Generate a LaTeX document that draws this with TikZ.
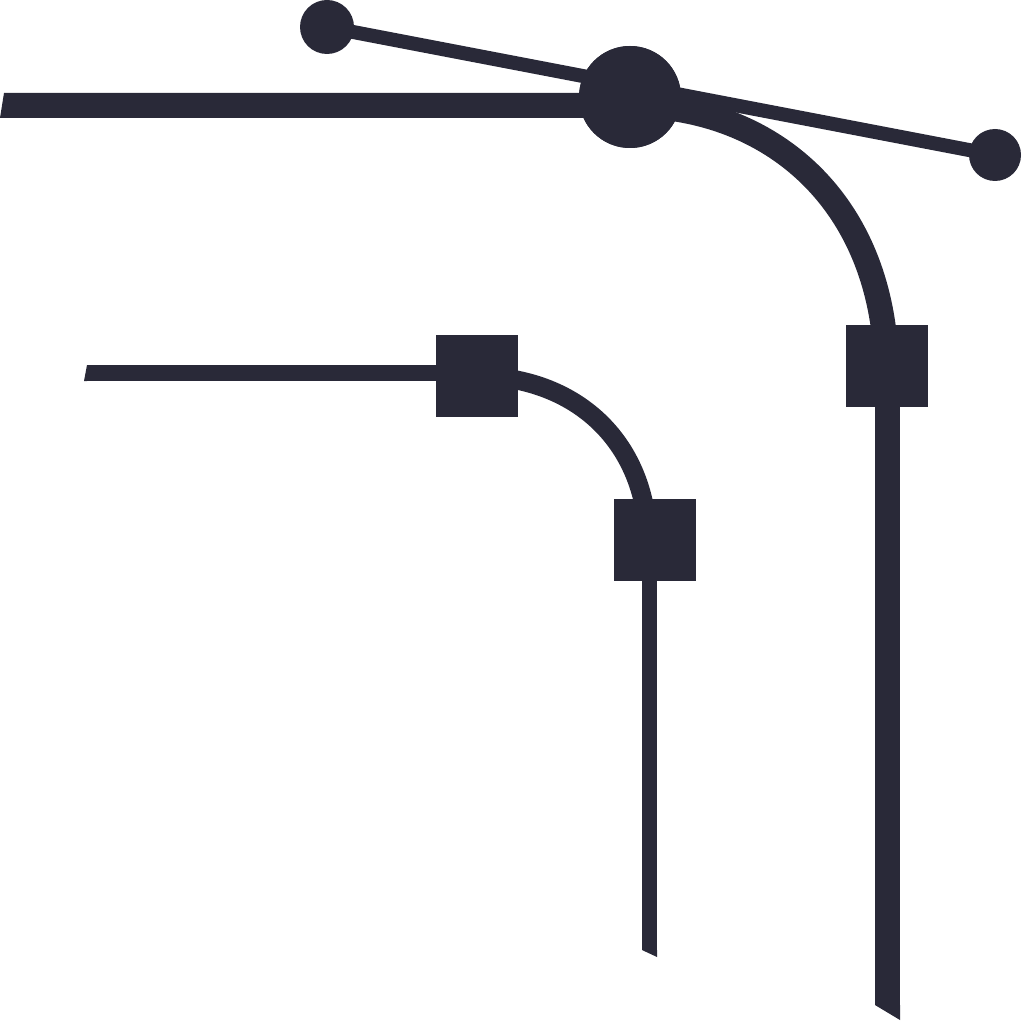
\documentclass[tikz,border=0pt]{standalone}
\usepackage{tikz}
\usetikzlibrary{positioning}
\usepackage{xcolor}
\definecolor{ink}{RGB}{41,41,56}

\begin{document}
\begin{tikzpicture}[x=1pt, y=-1pt,
    knob/.style={circle, fill=ink, inner sep=0pt, minimum size=#1},
    handle/.style={rectangle, fill=ink, inner sep=0pt, minimum size=82pt},
    wire/.style={draw=ink, line width=#1, line cap=butt}]

  \useasboundingbox (0,0) rectangle (1024,1024);

  % ---- big path: horizontal, curve, vertical ----
  \coordinate (bigstart) at (4,105.5);
  \coordinate (bigend) at (887.5,1005);
  \node[handle] (sqbig) at (886.5,366) {};
  \draw[wire=25pt] (bigstart) -- (630,105.5)
    .. controls (770,105.5) and (882,200) .. (sqbig.center);
  \draw[wire=25pt] (bigend |- sqbig.center) -- (bigend);
  % slanted ends
  \fill[ink] (4,93) -- (4,118) -- (0,118) -- cycle;
  \fill[ink] (875,1005) -- (900,1005) -- (900,1020) -- cycle;

  % ---- bezier handle with knobs ----
  \node[knob=54pt] (knobl) at (327,27) {};
  \node[knob=52pt] (knobr) at (995,155) {};
  \node[knob=102pt] (anchor) at (630,97) {};
  \draw[wire=14pt] (knobl.center) -- (knobr.center);

  % ---- small path ----
  \coordinate (smallstart) at (87,373);
  \coordinate (smallend) at (649.5,950);
  \node[handle] (sqa) at (477,376) {};
  \node[handle] (sqb) at (655,539.5) {};
  \draw[wire=16pt] (smallstart) -- (smallstart -| sqa.center);
  \draw[wire=19pt] (sqa.center) .. controls (575,377) and (645,440) .. (648,539.5);
  \draw[wire=15pt] (smallend |- sqb.center) -- (smallend);
  % slanted ends
  \fill[ink] (87,365) -- (87,381) -- (84,381) -- cycle;
  \fill[ink] (642,950) -- (657,950) -- (657,957) -- cycle;

  % squares and knobs on top
  \node[handle] at (sqbig) {};
  \node[handle] at (sqa) {};
  \node[handle] at (sqb) {};
  \node[knob=102pt] at (anchor) {};

\end{tikzpicture}
\end{document}
